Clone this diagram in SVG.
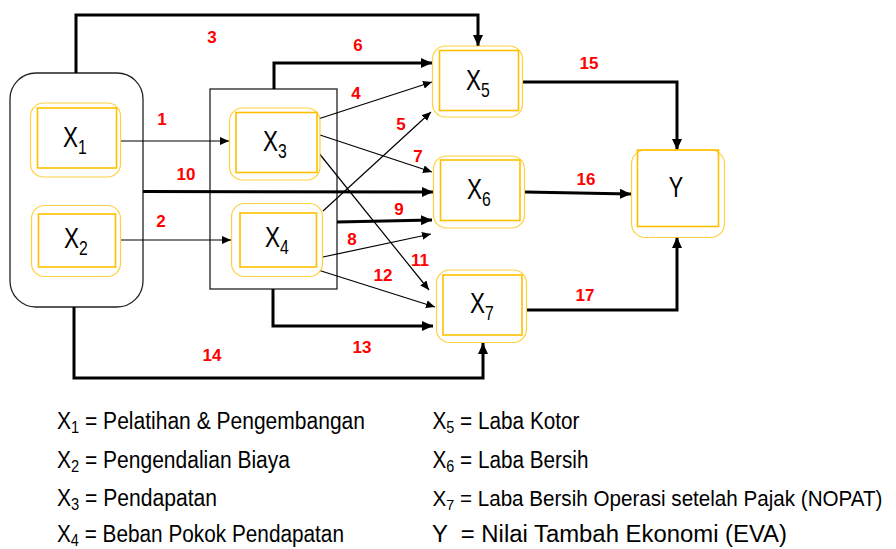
<svg xmlns="http://www.w3.org/2000/svg" width="896" height="549" viewBox="0 0 896 549">
  <style>
    .grp { fill: none; stroke: #222; stroke-width: 1.3; }
    .oy { fill: #fff; stroke: #FFC000; stroke-width: 1.2; stroke-opacity: 0.75; }
    .iy { fill: none; stroke: #FFC000; stroke-width: 1.6; }
    .nl { font-family: "Liberation Sans", Arial, sans-serif; font-size: 30px; fill: #000; text-anchor: middle; }
    .nl .s { font-size: 21px; }
    .thin { fill: none; stroke: #000; stroke-width: 1.2; marker-end: url(#at); }
    .thick { fill: none; stroke: #000; stroke-width: 3; marker-end: url(#ah); }
    .num { font-family: "Liberation Sans", Arial, sans-serif; font-size: 17px; font-weight: bold; fill: #FF0000; text-anchor: middle; }
    .lg { font-family: "Liberation Sans", Arial, sans-serif; font-size: 23px; fill: #000; }
    .lg .s { font-size: 16px; }
    .lg.long { font-size: 21.5px; }
    .lg.long .s { font-size: 15px; }
  </style>
  <defs>
    <marker id="ah" markerUnits="userSpaceOnUse" markerWidth="12" markerHeight="10" refX="11" refY="5" orient="auto">
      <path d="M0,0 L11,5 L0,10 z" fill="#000"/>
    </marker>
    <marker id="at" markerUnits="userSpaceOnUse" markerWidth="10" markerHeight="8" refX="9" refY="4" orient="auto">
      <path d="M0,0 L9,4 L0,8 z" fill="#000"/>
    </marker>
  </defs>

  <!-- container frames -->
  <g id="group-x1-x2">
    <rect class="grp" x="10" y="73" width="133" height="234" rx="26" ry="26"/>
  </g>
  <g id="group-x3-x4">
    <rect class="grp" x="210" y="89" width="127" height="200"/>
  </g>

  <!-- connectors -->
  <g id="connectors">
    <path class="thin" d="M121,141 L229,141"/>
    <path class="thin" d="M121,240 L231,240"/>
    <path class="thick" d="M76,73 V15 H478 V46"/>
    <path class="thin" d="M318,119 L432,82"/>
    <path class="thin" d="M323,211 L431,112"/>
    <path class="thick" d="M274,89 V63 H432"/>
    <path class="thin" d="M320,135 L432,172"/>
    <path class="thin" d="M323,257 L431,234"/>
    <path class="thick" d="M337,222 L432,220"/>
    <path class="thick" d="M143,191.5 L433,192"/>
    <path class="thin" d="M318,152 L429,290"/>
    <path class="thin" d="M318,270 L435,307"/>
    <path class="thick" d="M273,289 V326 H433"/>
    <path class="thick" d="M74,307 V378 H483 V343"/>
    <path class="thick" d="M523,82 H677 V150"/>
    <path class="thick" d="M525,192 L631,194"/>
    <path class="thick" d="M527,310 H677 V237"/>
  </g>

  <!-- path numbers -->
  <g id="path-labels">
    <text class="num" x="162" y="125">1</text>
    <text class="num" x="161" y="227">2</text>
    <text class="num" x="212" y="43">3</text>
    <text class="num" x="356" y="99">4</text>
    <text class="num" x="401" y="130">5</text>
    <text class="num" x="358" y="51">6</text>
    <text class="num" x="418" y="162">7</text>
    <text class="num" x="352" y="245">8</text>
    <text class="num" x="399" y="215">9</text>
    <text class="num" x="186" y="180">10</text>
    <text class="num" x="420" y="266">11</text>
    <text class="num" x="383" y="281">12</text>
    <text class="num" x="362" y="353">13</text>
    <text class="num" x="212" y="361">14</text>
    <text class="num" x="589" y="69">15</text>
    <text class="num" x="586" y="185">16</text>
    <text class="num" x="585" y="301">17</text>
  </g>

  <!-- variable nodes -->
  <g id="x1">
    <rect class="oy" x="30.5" y="103" width="90" height="74" rx="13"/>
    <rect class="iy" x="37.5" y="108" width="79" height="60"/>
    <text class="nl" transform="translate(75,147) scale(0.75,1)">X<tspan class="s" dy="7">1</tspan></text>
  </g>
  <g id="x2">
    <rect class="oy" x="31.5" y="205.5" width="89" height="71" rx="13"/>
    <rect class="iy" x="38.5" y="214" width="77" height="53"/>
    <text class="nl" transform="translate(76,248) scale(0.75,1)">X<tspan class="s" dy="7">2</tspan></text>
  </g>
  <g id="x3">
    <rect class="oy" x="229.5" y="108" width="90.5" height="72" rx="13"/>
    <rect class="iy" x="236" y="112.5" width="81" height="60"/>
    <text class="nl" transform="translate(275,151) scale(0.75,1)">X<tspan class="s" dy="7">3</tspan></text>
  </g>
  <g id="x4">
    <rect class="oy" x="231.5" y="203.5" width="91" height="73" rx="13"/>
    <rect class="iy" x="240" y="213" width="76.5" height="54"/>
    <text class="nl" transform="translate(277,247) scale(0.75,1)">X<tspan class="s" dy="7">4</tspan></text>
  </g>
  <g id="x5">
    <rect class="oy" x="432.5" y="46" width="90" height="71" rx="13"/>
    <rect class="iy" x="439.5" y="50.5" width="79" height="60"/>
    <text class="nl" transform="translate(478,90) scale(0.75,1)">X<tspan class="s" dy="7">5</tspan></text>
  </g>
  <g id="x6">
    <rect class="oy" x="433.5" y="156" width="91" height="72" rx="13"/>
    <rect class="iy" x="440.5" y="160" width="79.5" height="60.5"/>
    <text class="nl" transform="translate(479,199) scale(0.75,1)">X<tspan class="s" dy="7">6</tspan></text>
  </g>
  <g id="x7">
    <rect class="oy" x="436.5" y="270" width="90" height="72.5" rx="13"/>
    <rect class="iy" x="443" y="275" width="79" height="60"/>
    <text class="nl" transform="translate(482,313) scale(0.75,1)">X<tspan class="s" dy="7">7</tspan></text>
  </g>
  <g id="y">
    <rect class="oy" x="631.5" y="150" width="93" height="87.5" rx="14"/>
    <rect class="iy" x="637.5" y="150" width="81" height="76.5"/>
    <text class="nl" transform="translate(676,197) scale(0.72,1)">Y</text>
  </g>

  <!-- legend -->
  <g id="legend">
    <text class="lg" x="57" y="429" textLength="308" lengthAdjust="spacingAndGlyphs">X<tspan class="s" dy="4">1</tspan><tspan dy="-4"> = Pelatihan &amp; Pengembangan</tspan></text>
    <text class="lg" x="57" y="468" textLength="233" lengthAdjust="spacingAndGlyphs">X<tspan class="s" dy="4">2</tspan><tspan dy="-4"> = Pengendalian Biaya</tspan></text>
    <text class="lg" x="57" y="506" textLength="160" lengthAdjust="spacingAndGlyphs">X<tspan class="s" dy="4">3</tspan><tspan dy="-4"> = Pendapatan</tspan></text>
    <text class="lg" x="57" y="542" textLength="287" lengthAdjust="spacingAndGlyphs">X<tspan class="s" dy="4">4</tspan><tspan dy="-4"> = Beban Pokok Pendapatan</tspan></text>
    <text class="lg" x="432.5" y="429" textLength="147" lengthAdjust="spacingAndGlyphs">X<tspan class="s" dy="4">5</tspan><tspan dy="-4"> = Laba Kotor</tspan></text>
    <text class="lg" x="432.5" y="468" textLength="156" lengthAdjust="spacingAndGlyphs">X<tspan class="s" dy="4">6</tspan><tspan dy="-4"> = Laba Bersih</tspan></text>
    <text class="lg long" x="432.5" y="506" textLength="450" lengthAdjust="spacingAndGlyphs">X<tspan class="s" dy="4">7</tspan><tspan dy="-4"> = Laba Bersih Operasi setelah Pajak (NOPAT)</tspan></text>
    <text class="lg" x="432" y="542" textLength="355" lengthAdjust="spacingAndGlyphs" xml:space="preserve">Y  = Nilai Tambah Ekonomi (EVA)</text>
  </g>
</svg>
